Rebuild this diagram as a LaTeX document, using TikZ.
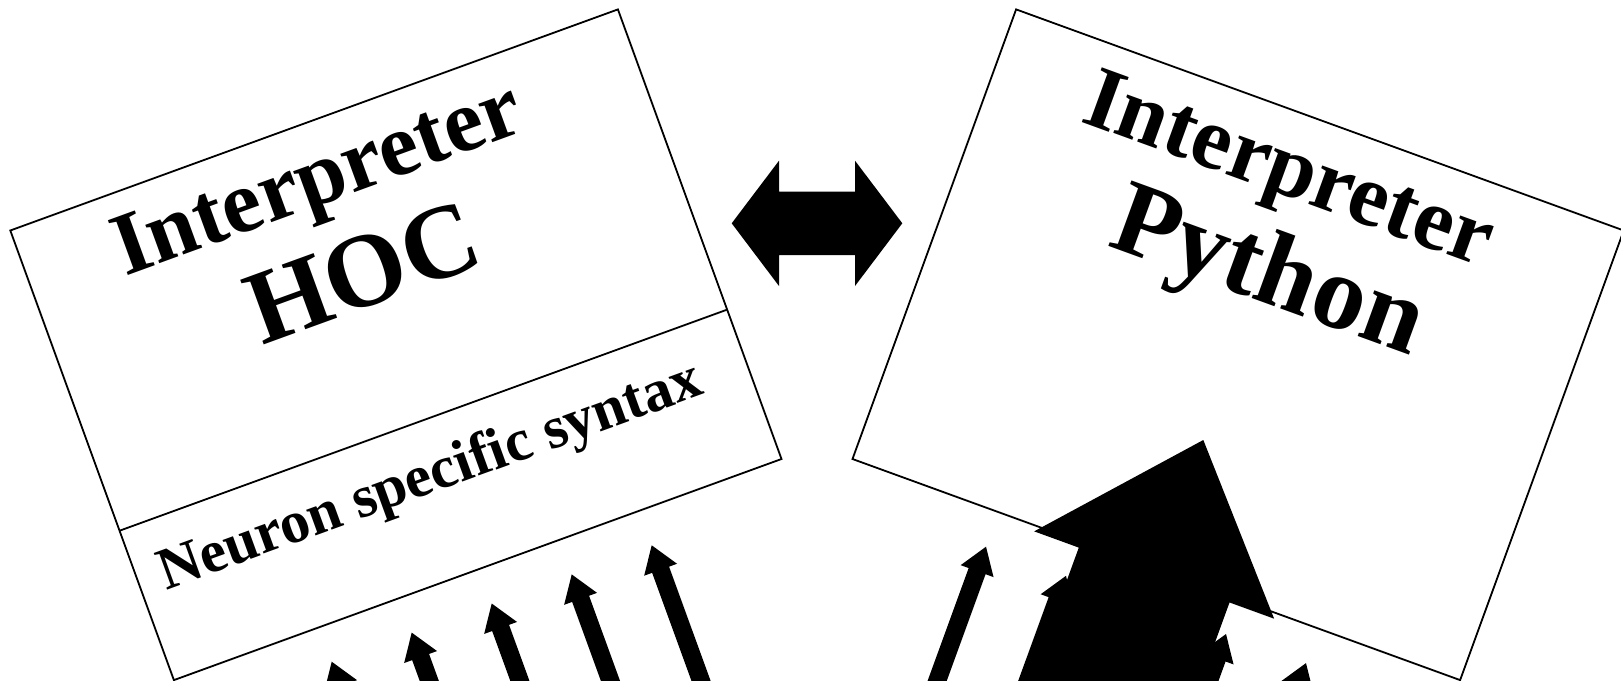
\documentclass[tikz,border=0pt]{standalone}
\usepackage{fontspec}
\setmainfont{Liberation Serif}
\begin{document}
\begin{tikzpicture}[x=1pt,y=-1pt,
  frame/.style={draw=black,line width=1.8pt,line join=miter,fill=white},
  divider/.style={draw=black,line width=1.8pt},
  lbl/.style={inner sep=0pt,outer sep=0pt,anchor=base west,text=black},
  thinarrow/.pic={\fill[black] (0,0) -- (17.5,26) -- (9,26) -- (9,320) -- (-9,320) -- (-9,26) -- (-17.5,26) -- cycle;},
  bigarrow/.pic={\fill[black] (0,0) -- (127.7,143.7) -- (80.2,143.7) -- (80.2,420) -- (-80.2,420) -- (-80.2,143.7) -- (-127.7,143.7) -- cycle;}
]
\useasboundingbox (0,0) rectangle (1621,680);
\clip (0,0) rectangle (1621,680);
\fill[white] (0,0) rectangle (1621,680);

% HOC box
\coordinate (hA) at (10.3,230.5);
\coordinate (hB) at (617.9,9.4);
\coordinate (hC) at (781.5,459);
\coordinate (hD) at (173.9,680.1);
\coordinate (hL) at (119.6,530.7);
\coordinate (hR) at (727.2,309.6);
\draw[frame] (hA) -- (hB) -- (hC) -- (hD) -- cycle;
\draw[divider] (hL) -- (hR);

% Python box
\coordinate (pA) at (1016.1,9.4);
\coordinate (pB) at (1623.7,230.5);
\coordinate (pC) at (1460.1,680.1);
\coordinate (pD) at (852.5,459);
\draw[frame] (pA) -- (pB) -- (pC) -- (pD) -- cycle;

% texts
\node[lbl,rotate=20,font=\bfseries\fontsize{89}{96}\selectfont] (hocI) at (125,276) {Interpreter};
\node[lbl,rotate=20,font=\bfseries\fontsize{105}{112}\selectfont] (hocH) at (262,345) {HOC};
\node[lbl,rotate=20,font=\bfseries\fontsize{59.5}{66}\selectfont] (hocN) at (166,590) {Neuron specific syntax};
\node[lbl,rotate=-20,font=\bfseries\fontsize{89}{96}\selectfont] (pyI) at (1079,121) {Interpreter};
\node[lbl,rotate=-20,font=\bfseries\fontsize{106}{114}\selectfont] (pyP) at (1106,245) {Python};

% double arrow
\fill[black] (731.7,223.3) -- (779,160.7) -- (779,191.7) -- (855,191.7) -- (855,160.7) -- (902.3,223.3)
  -- (855,286) -- (855,255) -- (779,255) -- (779,286) -- cycle;

% left arrows
\pic[rotate=20] at (331.7,661.7) {thinarrow};
\pic[rotate=20] at (411.7,632.6) {thinarrow};
\pic[rotate=20] at (491.7,603.5) {thinarrow};
\pic[rotate=20] at (571.7,574.4) {thinarrow};
\pic[rotate=20] at (651.7,545.3) {thinarrow};

% right arrows
\pic[rotate=-20] at (986,546.7) {thinarrow};
\pic[rotate=-20] at (1066,575.8) {thinarrow};
\pic[rotate=-20] at (1146,604.9) {thinarrow};
\pic[rotate=-20] at (1226,634) {thinarrow};
\pic[rotate=-20] at (1306,663.1) {thinarrow};
\pic[rotate=-20] at (1203.3,440) {bigarrow};
\end{tikzpicture}
\end{document}
